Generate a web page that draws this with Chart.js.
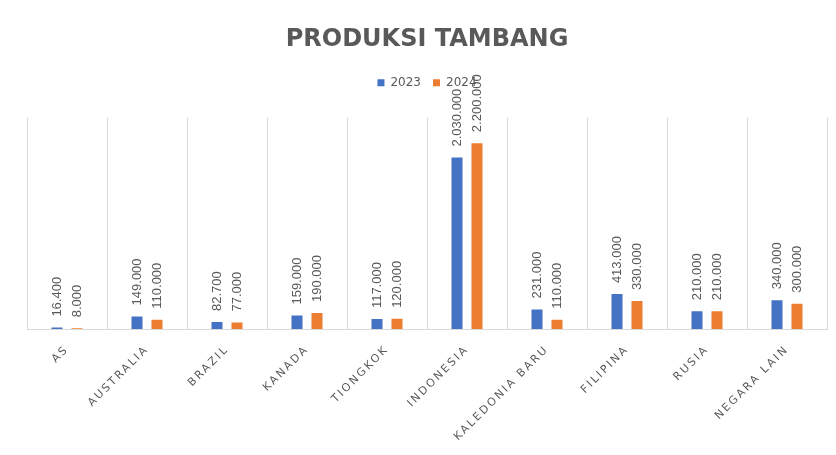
<!DOCTYPE html>
<html>
<head>
<meta charset="utf-8">
<title>Produksi Tambang</title>
<script src="https://cdn.jsdelivr.net/npm/chart.js@4.4.1/dist/chart.umd.min.js"></script>
<style>
  html, body { margin: 0; padding: 0; background: #fff; }
  canvas { display: block; }
</style>
</head>
<body>
<canvas id="chart" width="836" height="455"></canvas>
<script>
const countries = ['AS', 'AUSTRALIA', 'BRAZIL', 'KANADA', 'TIONGKOK', 'INDONESIA', 'KALEDONIA BARU', 'FILIPINA', 'RUSIA', 'NEGARA LAIN'];
const produksi2023 = [16400, 149000, 82700, 159000, 117000, 2030000, 231000, 413000, 210000, 340000];
const produksi2024 = [8000, 110000, 77000, 190000, 120000, 2200000, 110000, 330000, 210000, 300000];
const yMax = 2500000;

const gray = '#595959';

// dots as thousand separators, like the original sheet
function formatNumber(v) {
  return String(v).replace(/\B(?=(\d{3})+(?!\d))/g, '.');
}

// vertical value labels above each bar
const barLabels = {
  id: 'barLabels',
  afterDatasetsDraw(chart) {
    const ctx = chart.ctx;
    ctx.save();
    ctx.font = '13px "Liberation Sans"';
    ctx.fillStyle = gray;
    ctx.textAlign = 'left';
    ctx.textBaseline = 'middle';
    chart.data.datasets.forEach((ds, i) => {
      chart.getDatasetMeta(i).data.forEach((bar, j) => {
        ctx.save();
        ctx.translate(bar.x, bar.y - 11);
        ctx.rotate(-Math.PI / 2);
        ctx.fillText(formatNumber(ds.data[j]), 0, 0);
        ctx.restore();
      });
    });
    ctx.restore();
    // x tick labels are drawn after this (ticks.z = 1), spaced out
    ctx.letterSpacing = '2.2px';
  },
  afterDraw(chart) {
    chart.ctx.letterSpacing = '0px';
  }
};

new Chart(document.getElementById('chart'), {
  type: 'bar',
  data: {
    labels: countries,
    datasets: [
      { label: '2023', data: produksi2023, backgroundColor: '#4472C4', categoryPercentage: 0.5, barPercentage: 0.55 },
      { label: '2024', data: produksi2024, backgroundColor: '#ED7D31', categoryPercentage: 0.5, barPercentage: 0.55 }
    ]
  },
  options: {
    responsive: false,
    animation: false,
    layout: { padding: { left: 27, right: 9, top: 0, bottom: 0 } },
    scales: {
      x: {
        offset: true,
        grid: { color: '#d9d9d9', drawTicks: false, offset: true },
        border: { color: '#d9d9d9' },
        ticks: {
          color: gray,
          font: { family: 'DejaVu Sans', size: 11 },
          minRotation: 45,
          maxRotation: 45,
          autoSkip: false,
          padding: 14,
          z: 1
        },
        // fixed axis band so the plot ends where the original does
        afterFit(scale) { scale.height = 126; }
      },
      y: { display: false, min: 0, max: yMax }
    },
    plugins: {
      title: {
        display: true,
        text: 'PRODUKSI TAMBANG',
        color: gray,
        font: { family: 'DejaVu Sans', size: 24, weight: 'bold', lineHeight: 1.2 },
        padding: { top: 25, bottom: 11 }
      },
      legend: {
        labels: {
          boxWidth: 7,
          boxHeight: 7,
          padding: 12,
          color: gray,
          font: { family: 'DejaVu Sans', size: 12 }
        }
      },
      // empty spacer between legend and plot
      subtitle: {
        display: true,
        text: ' ',
        weight: 500,
        font: { size: 1, lineHeight: 1 },
        padding: { top: 0, bottom: 18 }
      },
      tooltip: { enabled: false }
    }
  },
  plugins: [barLabels]
});
</script>
</body>
</html>
